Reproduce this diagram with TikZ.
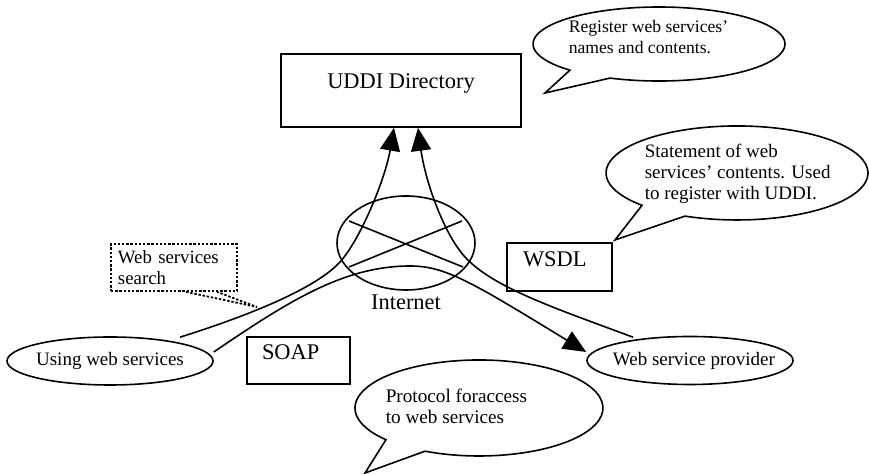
\documentclass[tikz,border=0pt]{standalone}
\usepackage{fontspec}
\setmainfont{Liberation Serif}
\usetikzlibrary{arrows.meta,calc,shapes.geometric}

\begin{document}
\begin{tikzpicture}[x=0.5pt,y=-0.5pt,
  line width=0.8pt,
  font=\fontsize{11.2}{13}\selectfont,
  box/.style={draw, rectangle, inner sep=0pt},
  oval/.style={draw, ellipse, inner sep=0pt, font=\fontsize{9.5}{11}\selectfont},
  link/.style={-{Triangle[length=11.5pt,width=10pt]}},
  note/.style={anchor=north west, inner sep=0pt, align=left},
  dots/.style={line width=0.9pt, dash pattern=on 1.2pt off 0.9pt},
]
\useasboundingbox (0,0) rectangle (869,474);

% directory and description boxes
\node[box, minimum width=120pt, text height=17.5pt, text depth=19pt] (uddi) at (401,90.5) {UDDI Directory};
\node[box, inner xsep=8pt, text width=36.5pt, text height=12pt, text depth=12pt, align=left] (wsdl) at (559.5,267) {WSDL};
\node[box, inner xsep=7.5pt, text width=36.5pt, text height=11.5pt, text depth=12pt, align=left] (soap) at (298.5,360.5) {SOAP};

% the Internet
\node[oval, minimum width=69pt, minimum height=47pt] (net) at (406,243) {};
\draw ($(net.center)+(-57,-22)$) -- ($(net.center)+(57,24)$);
\draw ($(net.center)+(56,-22)$) -- ($(net.center)+(-57,24)$);
\node[anchor=base] (netlabel) at (406,310) {Internet};

% client and provider
\node[oval, minimum width=103pt, minimum height=24pt] (user) at (110,361) {\makebox[0pt]{Using web services}};
\node[oval, minimum width=103pt, minimum height=24pt] (prov) at (690,360.5) {\makebox[0pt]{\hspace{4pt}Web service provider}};

% message flows
\draw[link] ($(user.north)+(70,1)$) .. controls (260,312) and (318,286) .. (340,262)
  .. controls (360,240) and (385,180) .. ($(uddi.south)+(-7,0)$);
\draw[link] ($(user.east)+(0,-9)$) .. controls (290,300) and (345,266) .. (410,266)
  .. controls (445,266) and (470,281) .. ($(prov.west)+(0,-8.5)$);
\draw[link] ($(prov.north)+(-57,1.5)$) .. controls (560,310) and (500,290) .. (470,262)
  .. controls (445,240) and (425,180) .. ($(uddi.south)+(17,0)$);

% speech bubbles
\draw (610,78.1) arc[start angle=247.1, end angle=585, x radius=63pt, y radius=18.5pt] -- (545,93) -- cycle;
\node[note, font=\fontsize{8.8}{10.5}\selectfont] (regtext) at (568,19) {Register web services'\\names and contents.};

\draw (685,216.1) arc[start angle=246.6, end angle=583.5, x radius=65.5pt, y radius=23.5pt] -- (615,240) -- cycle;
\node[note, font=\fontsize{9.5}{10.6}\selectfont] (stmtext) at (644,143) {Statement of web\\services' contents. Used\\to register with UDDI.};

\draw (425,451.2) arc[start angle=244.2, end angle=581.4, x radius=62pt, y radius=24pt] -- (365,473) -- cycle;
\node[note, font=\fontsize{9.6}{10.4}\selectfont] (protext) at (385,388) {Protocol foraccess\\to web services};

% search note
\node[draw, dots, rectangle, inner xsep=3.5pt, inner ysep=0pt, text width=56pt, minimum height=23.5pt, align=left, font=\fontsize{9.4}{10.5}\selectfont] (search) at (174,267.5) {Web services\\search};
\draw[dots] ($(search.south west)+(76,0)$) -- (257,307) -- ($(search.south west)+(107,0)$);
\end{tikzpicture}
\end{document}
